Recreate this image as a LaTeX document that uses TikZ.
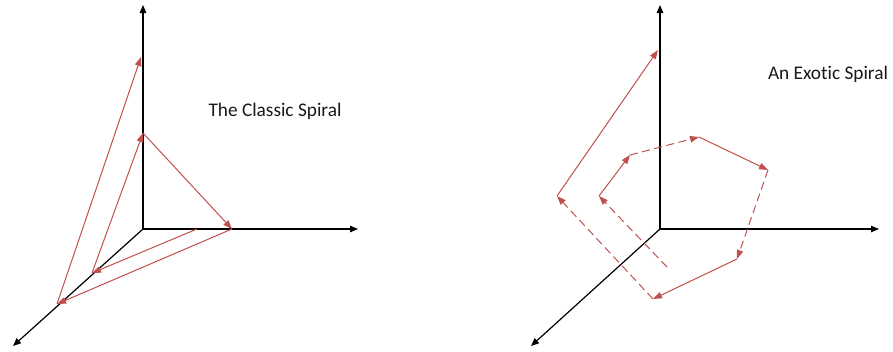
\documentclass[tikz,border=0pt]{standalone}
\usepackage{fontspec}
\setmainfont{Carlito}[Ligatures={NoCommon}]
\usetikzlibrary{arrows.meta}
\definecolor{spiralred}{RGB}{192,80,77}
\begin{document}
\begin{tikzpicture}[x=1pt,y=-1pt,
  axis/.style={line width=1.2pt,draw=black,-{Triangle[length=8pt,width=6.5pt]}},
  vec/.style={line width=1pt,draw=spiralred,-{Triangle[length=9pt,width=6.5pt]}},
  dvec/.style={vec,dash pattern=on 8pt off 4.5pt},
  lbl/.style={font=\fontsize{19.3}{22}\selectfont,text=black!90}]
\useasboundingbox (0,0) rectangle (893,351);
% ---------- left figure ----------
\coordinate (O1) at (143,229);
\coordinate (Z1) at (143,5);
\coordinate (X1) at (358,229);
\coordinate (Y1) at (13,346);
\draw[axis] (O1) -- (Z1);
\draw[axis] (O1) -- (X1);
\draw[axis] (O1) -- (Y1);
\coordinate (P1) at (143,133);
\coordinate (A1) at (232,229);
\coordinate (S1) at (197,229);
\coordinate (B1) at (92,273);
\coordinate (C1) at (57,304);
\coordinate (D1) at (141,57);
\draw[vec] (P1) -- (A1);
\draw[vec] (S1) -- (B1);
\draw[vec] (A1) -- (C1);
\draw[vec] (B1) -- (P1);
\draw[vec] (C1) -- (D1);
\node[lbl] (t1) at (275,111) {The Classic Spiral};
% ---------- right figure ----------
\coordinate (O2) at (660,229);
\coordinate (Z2) at (660,5);
\coordinate (X2) at (879,229);
\coordinate (Y2) at (531,346);
\draw[axis] (O2) -- (Z2);
\draw[axis] (O2) -- (X2);
\draw[axis] (O2) -- (Y2);
\coordinate (Q1) at (557,196);
\coordinate (Q2) at (599,196);
\coordinate (R1) at (658,50);
\coordinate (R2) at (630,155);
\coordinate (R3) at (699,137);
\coordinate (R4) at (768,170);
\coordinate (R5) at (737,259);
\coordinate (R6) at (653,299);
\coordinate (S2) at (667,267);
\draw[vec] (Q1) -- (R1);
\draw[dvec] (R6) -- (Q1);
\draw[dvec] (S2) -- (Q2);
\draw[vec] (Q2) -- (R2);
\draw[dvec] (R2) -- (R3);
\draw[vec] (R3) -- (R4);
\draw[dvec] (R4) -- (R5);
\draw[vec] (R5) -- (R6);
\node[lbl] (t2) at (828,74) {An Exotic Spiral};
\end{tikzpicture}
\end{document}
